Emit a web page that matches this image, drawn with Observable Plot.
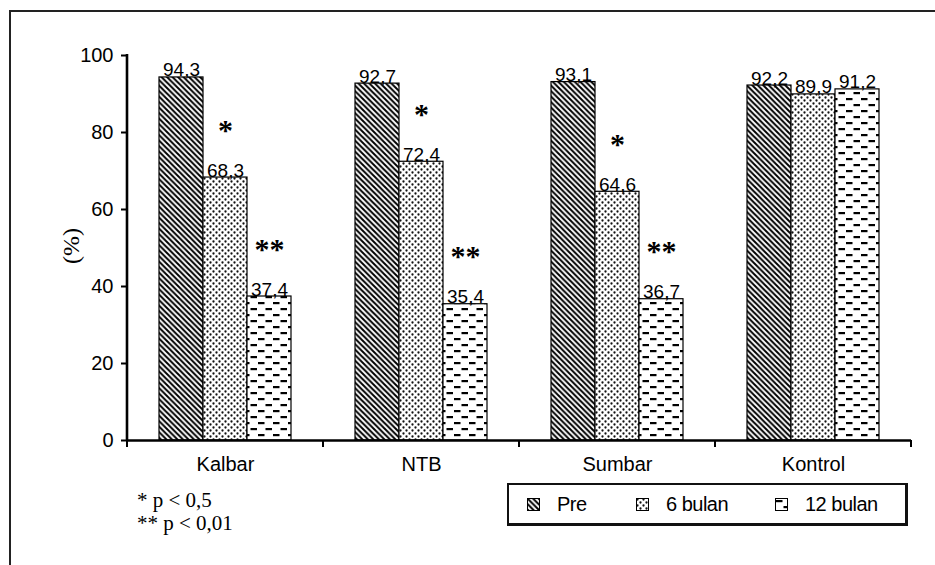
<!DOCTYPE html>
<html>
<head>
<meta charset="utf-8">
<script src="https://cdn.jsdelivr.net/npm/d3@7"></script>
<script src="https://cdn.jsdelivr.net/npm/@observablehq/plot@0.6"></script>
<style>
  body { margin: 0; background: #fff; }
  #wrap { position: relative; width: 935px; height: 565px; overflow: hidden; background: #fff; }
  #border { position: absolute; left: 9px; top: 10px; width: 1000px; height: 700px;
            border-left: 2px solid #222; border-top: 2px solid #222; }
  #chart { position: absolute; left: 0; top: 0; }
  #ylab { position: absolute; left: 40px; top: 232px; width: 64px; height: 28px; line-height: 28px;
          text-align: center; transform: rotate(-90deg); font: 24px "Liberation Serif", serif; color: #000; }
  #notes { position: absolute; left: 137px; top: 489px; font: 21px "Liberation Serif", serif;
           line-height: 23px; color: #000; }
  #legend { position: absolute; left: 507px; top: 483px; width: 396px; height: 38px;
            border: 2px solid #111; border-right-width: 3px; border-bottom-width: 3px;
            font: 20px "Liberation Sans", Arial, sans-serif; color: #000; letter-spacing: -0.5px; }
  .item { position: absolute; top: 0; height: 38px; line-height: 38px; white-space: nowrap; }
  .item svg { position: absolute; top: 13px; left: 0; }
  .item span { position: absolute; left: 30px; top: 0; }
</style>
</head>
<body>
<svg width="0" height="0" style="position:absolute">
  <defs>
    <pattern id="pPre" patternUnits="userSpaceOnUse" width="5.5" height="5.5">
      <rect width="5.5" height="5.5" fill="#fff"/>
      <path d="M-1,-1 L6.5,6.5 M-1,4.5 L1,6.5 M4.5,-1 L6.5,1" stroke="#000" stroke-width="2"/>
    </pattern>
    <pattern id="p6" patternUnits="userSpaceOnUse" width="6" height="6">
      <rect width="6" height="6" fill="#fff"/>
      <circle cx="1.5" cy="1.5" r="1.15" fill="#111"/>
      <circle cx="4.5" cy="4.5" r="1.15" fill="#111"/>
    </pattern>
    <pattern id="p12" patternUnits="userSpaceOnUse" width="15" height="12">
      <rect width="15" height="12" fill="#fff"/>
      <rect x="1" y="2" width="6.5" height="2.2" fill="#000"/>
      <rect x="8.5" y="8" width="6.5" height="2.2" fill="#000"/>
    </pattern>
  </defs>
</svg>
<div id="wrap">
  <div id="border"></div>
  <div id="chart"></div>
  <div id="ylab">(%)</div>
  <div id="notes">* p &lt; 0,5<br>** p &lt; 0,01</div>
  <div id="legend"></div>
</div>
<script>
// ---- data ----
const groups = ["Kalbar", "NTB", "Sumbar", "Kontrol"];
const series = ["Pre", "6 bulan", "12 bulan"];
const pre = [94.3, 92.7, 93.1, 92.2];
const bulan6 = [68.3, 72.4, 64.6, 89.9];
const bulan12 = [37.4, 35.4, 36.7, 91.2];
const sig6 = ["*", "*", "*", ""];
const sig12 = ["**", "**", "**", ""];
const yTicks = [0, 20, 40, 60, 80, 100];
const fills = ["url(#pPre)", "url(#p6)", "url(#p12)"];

const valuesBySeries = [pre, bulan6, bulan12];
const sigBySeries = [["", "", "", ""], sig6, sig12];
const rows = [];
groups.forEach((g, i) => series.forEach((s, j) => {
  rows.push({group: g, series: s, value: valuesBySeries[j][i], sig: sigBySeries[j][i]});
}));
const fmt = v => v.toFixed(1).replace(".", ",");

const sans = '"Liberation Sans", Arial, sans-serif';

const chart = Plot.plot({
  width: 935,
  height: 480,
  marginLeft: 125,
  marginRight: 23,
  marginTop: 55,
  marginBottom: 40,
  style: {fontFamily: sans, color: "#000", background: "transparent"},
  fx: {domain: groups, padding: 0, label: null},
  x: {domain: series, paddingInner: 0, paddingOuter: 0.72, axis: null},
  y: {domain: [0, 100], label: null},
  color: {domain: series, range: fills},
  marks: [
    Plot.barY(rows, {fx: "group", x: "series", y: "value", fill: "series", stroke: "#000", strokeWidth: 1.2}),
    Plot.ruleY([0], {stroke: "#000", strokeWidth: 2.4}),
    Plot.text(rows, {fx: "group", x: "series", y: "value", text: d => fmt(d.value), dy: -1,
      lineAnchor: "bottom", fontSize: 19, letterSpacing: "-0.5px", fill: "#000"}),
    Plot.text(rows.filter(d => d.sig), {fx: "group", x: "series", y: "value", text: "sig", dy: -38,
      lineAnchor: "bottom", fontSize: 30, fontWeight: "bold", letterSpacing: "2px",
      fontFamily: '"Liberation Serif", serif', fill: "#000"}),
    Plot.axisY({ticks: yTicks, tickSize: 6, tickPadding: 8, fontSize: 20, letterSpacing: "-1.5px",
      strokeWidth: 2, label: null}),
    Plot.axisFx({anchor: "bottom", tickSize: 0, tickPadding: 16, fontSize: 20, letterSpacing: "-0.5px", label: null})
  ]
});

// y-axis line and group-boundary ticks placed from the Plot scales
const fxS = chart.scale("fx"), yS = chart.scale("y");
const svg = d3.select(chart);
const xLeft = fxS.apply(groups[0]);
const y0 = yS.apply(0), y100 = yS.apply(100);
svg.append("line").attr("x1", xLeft).attr("x2", xLeft).attr("y1", y100 - 1).attr("y2", y0 + 1)
  .attr("stroke", "#000").attr("stroke-width", 2.6);
const bounds = groups.map(g => fxS.apply(g)).concat([fxS.apply(groups[groups.length - 1]) + fxS.bandwidth]);
bounds.forEach(b => {
  svg.append("line").attr("x1", b).attr("x2", b).attr("y1", y0).attr("y2", y0 + 7)
    .attr("stroke", "#000").attr("stroke-width", 2);
});
document.getElementById("chart").appendChild(chart);

// legend
const legend = document.getElementById("legend");
const lx = [18, 127, 266];
series.forEach((s, j) => {
  const it = document.createElement("div");
  it.className = "item";
  it.style.left = lx[j] + "px";
  it.innerHTML = `<svg width="13" height="13"><rect x="0.5" y="0.5" width="12" height="12" fill="${fills[j]}" stroke="#000"/></svg><span>${s}</span>`;
  legend.appendChild(it);
});
</script>
</body>
</html>
